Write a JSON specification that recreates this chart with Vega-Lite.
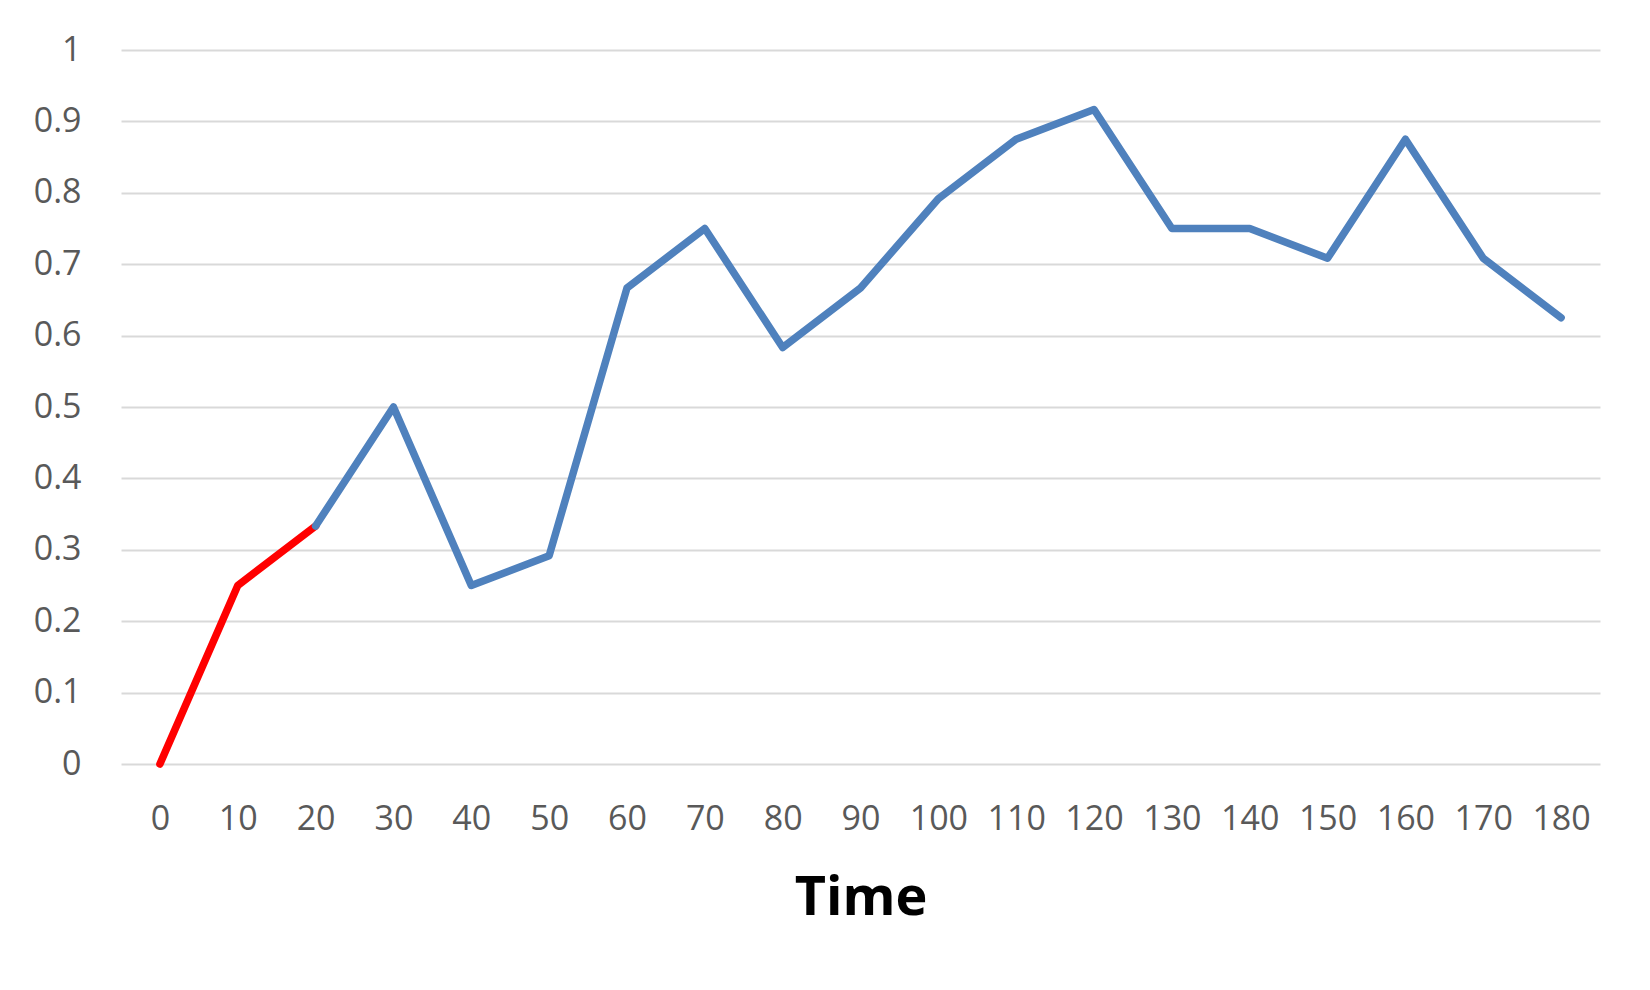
{
  "$schema": "https://vega.github.io/schema/vega-lite/v6.json",
  "autosize": "none",
  "width": 1479,
  "height": 714,
  "padding": {"left": 121, "top": 50, "right": 50, "bottom": 226},
  "background": "white",
  "datasets": {
    "early": [
      {"time": "0", "value": 0},
      {"time": "10", "value": 0.25},
      {"time": "20", "value": 0.3333}
    ],
    "main": [
      {"time": "20", "value": 0.3333},
      {"time": "30", "value": 0.5},
      {"time": "40", "value": 0.25},
      {"time": "50", "value": 0.2917},
      {"time": "60", "value": 0.6667},
      {"time": "70", "value": 0.75},
      {"time": "80", "value": 0.5833},
      {"time": "90", "value": 0.6667},
      {"time": "100", "value": 0.7917},
      {"time": "110", "value": 0.875},
      {"time": "120", "value": 0.9167},
      {"time": "130", "value": 0.75},
      {"time": "140", "value": 0.75},
      {"time": "150", "value": 0.7083},
      {"time": "160", "value": 0.875},
      {"time": "170", "value": 0.7083},
      {"time": "180", "value": 0.625}
    ]
  },
  "config": {
    "view": {"stroke": null},
    "font": "Open Sans"
  },
  "encoding": {
    "x": {
      "field": "time",
      "type": "ordinal",
      "sort": null,
      "scale": {
        "domain": ["0","10","20","30","40","50","60","70","80","90","100","110","120","130","140","150","160","170","180"],
        "padding": 0.5
      },
      "axis": {
        "title": "Time",
        "titleFont": "Open Sans",
        "titleFontSize": 54,
        "titleFontWeight": "bold",
        "titleColor": "#000000",
        "titlePadding": 35,
        "labelFont": "Open Sans",
        "labelFontSize": 34,
        "labelColor": "#595959",
        "labelAngle": 0,
        "labelPadding": 38,
        "ticks": false,
        "domain": false,
        "grid": false
      }
    },
    "y": {
      "field": "value",
      "type": "quantitative",
      "scale": {"domain": [0, 1], "nice": false, "zero": true},
      "axis": {
        "title": null,
        "values": [0, 0.1, 0.2, 0.3, 0.4, 0.5, 0.6, 0.7, 0.8, 0.9, 1],
        "format": "~g",
        "labelFont": "Open Sans",
        "labelFontSize": 34,
        "labelColor": "#595959",
        "labelPadding": 40,
        "ticks": false,
        "domain": false,
        "grid": true,
        "gridColor": "#D9D9D9",
        "gridWidth": 2
      }
    }
  },
  "layer": [
    {
      "data": {"name": "early"},
      "mark": {"type": "line", "color": "#FF0000", "strokeWidth": 7.5, "strokeCap": "round", "strokeJoin": "round"}
    },
    {
      "data": {"name": "main"},
      "mark": {"type": "line", "color": "#4F81BD", "strokeWidth": 7.5, "strokeCap": "round", "strokeJoin": "round"}
    }
  ]
}
